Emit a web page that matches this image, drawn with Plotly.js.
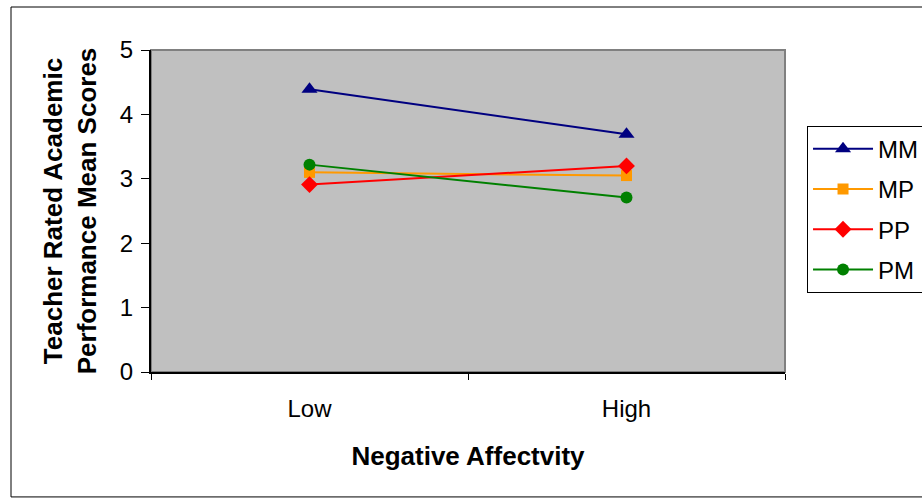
<!DOCTYPE html>
<html>
<head>
<meta charset="utf-8">
<script src="https://cdn.plot.ly/plotly-3.0.1.min.js"></script>
<style>
html,body{margin:0;padding:0;background:#fff;}
#chart{width:922px;height:500px;}
</style>
</head>
<body>
<div id="chart"></div>
<script>
const categories = ["Low", "High"];
const seriesNames = ["MM", "MP", "PP", "PM"];
const MM = [4.39, 3.69];
const MP = [3.10, 3.05];
const PP = [2.91, 3.20];
const PM = [3.22, 2.71];
const yTicks = [0, 1, 2, 3, 4, 5];

const values = [MM, MP, PP, PM];
const colors = ["#000080", "#FF9900", "#FF0000", "#008000"];
const symbols = ["triangle-up", "square", "diamond", "circle"];
const sizes = [14, 11, 13, 12];

const traces = seriesNames.map((name, i) => ({
  type: "scatter",
  mode: "lines+markers",
  name: name,
  legendgroup: name,
  x: categories,
  y: values[i],
  line: {color: colors[i], width: 2},
  marker: {symbol: symbols[i], size: sizes[i], color: colors[i], line: {width: 0}}
}));

const layout = {
  width: 922, height: 500,
  margin: {l: 151, r: 137, t: 50, b: 128},
  paper_bgcolor: "#ffffff",
  plot_bgcolor: "#C0C0C0",
  font: {family: "Arial, 'Liberation Sans', sans-serif", size: 24, color: "#000"},
  showlegend: true,
  hovermode: false,
  xaxis: {
    type: "category",
    range: [-0.5, 1.5],
    showgrid: false, zeroline: false,
    showline: true, linecolor: "#000", linewidth: 2,
    ticks: "outside", ticklen: 6, tickcolor: "#000", tickwidth: 1,
    tickson: "boundaries",
    ticklabelstandoff: 14,
    tickfont: {size: 24},
    title: {text: "<b>Negative Affectvity</b>", font: {size: 26}, standoff: 26}
  },
  yaxis: {
    range: [0, 5],
    tickvals: yTicks,
    showgrid: false, zeroline: false,
    showline: true, linecolor: "#000", linewidth: 2,
    ticks: "outside", ticklen: 8, tickcolor: "#000", tickwidth: 1,
    tickfont: {size: 24},
    ticklabelstandoff: 3,
    title: {text: "<b>Teacher Rated Academic<br>Performance Mean Scores</b>", font: {size: 26}, standoff: 16}
  },
  legend: {
    xref: "container", yref: "container",
    x: 0.8753, y: 0.7486, xanchor: "left", yanchor: "top",
    bgcolor: "#ffffff", bordercolor: "#000", borderwidth: 1,
    font: {size: 24},
    tracegroupgap: 6,
    itemwidth: 60
  },
  shapes: [
    {type: "rect", xref: "paper", yref: "paper", x0: 0, x1: 1, y0: 0, y1: 1,
     line: {color: "#808080", width: 2}, layer: "below"},
    {type: "rect", xref: "paper", yref: "paper", x0: -0.2208, x1: 1.3, y0: -0.388, y1: 1.1335,
     line: {color: "#000", width: 1}, fillcolor: "rgba(0,0,0,0)", layer: "below"}
  ]
};

Plotly.newPlot("chart", traces, layout, {displayModeBar: false, staticPlot: true});
</script>
</body>
</html>
